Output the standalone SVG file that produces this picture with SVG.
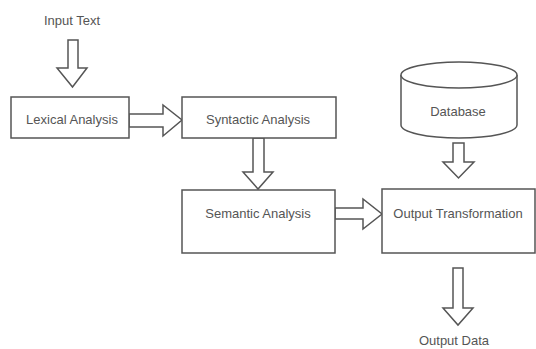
<svg xmlns="http://www.w3.org/2000/svg" width="536" height="349" viewBox="0 0 536 349">
<style>
.box{fill:#fff;stroke:#555;stroke-width:1.5}
.arr{fill:#fff;stroke:#555;stroke-width:1.5;stroke-linejoin:miter}
text{font-family:"Liberation Sans",Arial,sans-serif;font-size:13px;fill:#555;text-anchor:middle}
</style>
<rect width="536" height="349" fill="#fff"/>
<g id="connectors">
<polygon class="arr" points="68,40 78,40 78,68 87,68 72.5,87 57,68 68,68"/>
<polygon class="arr" points="129,114 163,114 163,105 182,120 163,136 163,127 129,127"/>
<polygon class="arr" points="253,138 264,138 264,172 273,172 258,189 243,172 253,172"/>
<polygon class="arr" points="335,208 363,208 363,199 382,214 363,229 363,219 335,219"/>
<polygon class="arr" points="453,143 464,143 464,162 474,162 458.5,178 443,162 453,162"/>
<polygon class="arr" points="453,268 463,268 463,308 473,308 458,325 443,308 453,308"/>
</g>
<g id="input-text"><text x="72" y="25">Input Text</text></g>
<g id="lexical"><rect class="box" x="11" y="97" width="118" height="41"/><text x="72" y="124">Lexical Analysis</text></g>
<g id="syntactic"><rect class="box" x="182" y="97" width="154" height="41"/><text x="258" y="124">Syntactic Analysis</text></g>
<g id="semantic"><rect class="box" x="182" y="190" width="153" height="63"/><text x="258" y="218">Semantic Analysis</text></g>
<g id="output-transformation"><rect class="box" x="382" y="189" width="153" height="64"/><text x="458" y="218">Output Transformation</text></g>
<g id="database">
<path class="box" d="M401,75 L401,125 A58,13 0 0 0 517,125 L517,75"/>
<ellipse class="box" cx="459" cy="75" rx="58" ry="13"/>
<text x="458" y="116">Database</text>
</g>
<g id="output-data"><text x="454" y="345">Output Data</text></g>
</svg>
